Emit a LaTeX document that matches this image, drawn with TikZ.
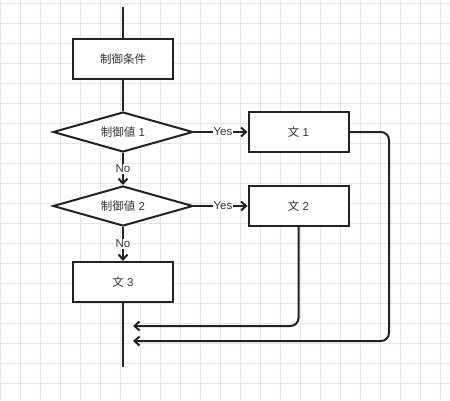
\documentclass[tikz,border=0pt]{standalone}
\usepackage{fontspec}
\setmainfont{Liberation Sans}
\newfontfamily\cjk{Noto Sans CJK JP}
\usetikzlibrary{shapes.geometric,arrows.meta}
\definecolor{gridc}{RGB}{228,228,244}
\definecolor{ink}{RGB}{34,34,34}
\definecolor{txt}{RGB}{51,51,51}
\begin{document}
\begin{tikzpicture}[x=1pt,y=-1pt,
  lblfont/.style={font=\fontsize{11.5}{13}\selectfont},
  box/.style={draw=ink, line width=2pt, fill=white, minimum width=100pt, minimum height=40pt, inner sep=0pt, text=txt, lblfont},
  dec/.style={diamond, aspect=3.5, draw=ink, line width=2pt, fill=white, minimum width=140pt, minimum height=40pt, inner sep=0pt, text=txt, lblfont},
  conn/.style={draw=ink, line width=2pt},
  arr/.style={conn, -{Straight Barb[length=5pt,width=9pt]}},
  lbl/.style={fill=white, text=txt, inner sep=1pt, lblfont}]
\fill[white] (0,0) rectangle (450,400);
\useasboundingbox (0,0) rectangle (450,400);
\foreach \i in {0,20,...,440} \draw[gridc, line width=1pt] (\i,0) -- (\i,400);
\foreach \j in {3,23,...,383} \draw[gridc, line width=1pt] (0,\j) -- (450,\j);

\node[box] (cond) at (123,59) {\cjk 制御条件};
\node[dec] (d1) at (123,132) {{\cjk 制御値} 1};
\node[dec] (d2) at (123,206) {{\cjk 制御値} 2};
\node[box] (s1) at (298.5,132) {{\cjk 文} 1};
\node[box] (s2) at (298.5,206) {{\cjk 文} 2};
\node[box] (s3) at (123,282) {{\cjk 文} 3};

\coordinate (top) at (123,7);
\coordinate (bot) at (123,367);
\coordinate (r1) at (389,132);
\coordinate (r1b) at (389,341);
\coordinate (in1) at (133,341);
\coordinate (r2) at (298.5,326);
\coordinate (in2) at (133,326);

\draw[conn] (top) -- (cond.north);
\draw[conn] (cond.south) -- (d1.north);
\draw[arr] (d1.south) -- node[lbl]{No} (d2.north);
\draw[arr] (d1.east) -- node[lbl, pos=0.54]{Yes} (s1.west);
\draw[arr] (d2.east) -- node[lbl, pos=0.54]{Yes} (s2.west);
\draw[arr] (d2.south) -- node[lbl]{No} (s3.north);
\draw[conn] (s3.south) -- (bot);
\draw[arr, rounded corners=8pt] (s1.east) -- (r1) -- (r1b) -- (in1);
\draw[arr, rounded corners=8pt] (s2.south) -- (r2) -- (in2);
\end{tikzpicture}
\end{document}
